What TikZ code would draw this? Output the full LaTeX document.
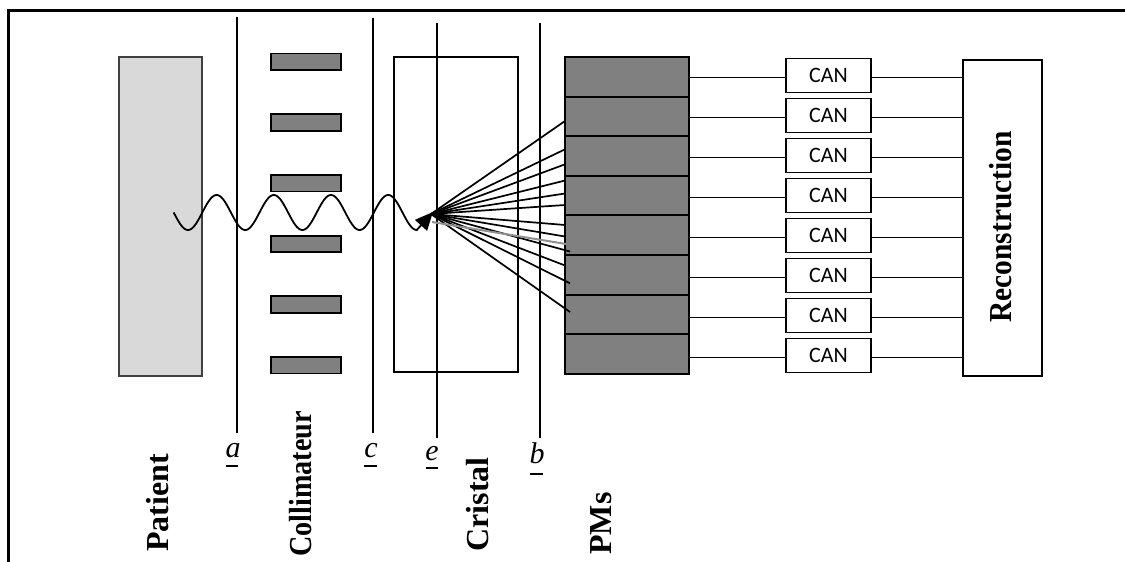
\documentclass[tikz,border=0pt]{standalone}
\usepackage{fontspec}
\setmainfont{Liberation Serif}
\newfontfamily\canfont{Carlito}
\usetikzlibrary{arrows.meta}
\definecolor{patientfill}{HTML}{D9D9D9}
\definecolor{darkfill}{HTML}{808080}
\definecolor{raygray}{HTML}{909090}
\begin{document}
\begin{tikzpicture}[x=0.5pt,y=-0.5pt,
  frame/.style={line width=1.5pt},
  vline/.style={line width=1pt},
  patientbox/.style={draw=black!75, fill=patientfill, line width=0.9pt, inner sep=0pt},
  colbar/.style={draw=black, fill=darkfill, line width=0.9pt, minimum width=35pt, minimum height=8.25pt, inner sep=0pt},
  crystbox/.style={draw=black, fill=white, line width=0.8pt, inner sep=0pt},
  pmcell/.style={draw=black, fill=darkfill, line width=1pt, minimum width=62pt, minimum height=19.8pt, inner sep=0pt},
  canbox/.style={draw=black, line width=0.9pt, minimum width=42.5pt, minimum height=17pt, inner sep=0pt, font=\canfont\fontsize{11}{13}\selectfont},
  reconbox/.style={draw=black, line width=0.9pt, inner sep=0pt},
  biglabel/.style={rotate=90, anchor=west, font=\bfseries\fontsize{16}{18}\selectfont, inner sep=0pt},
  letter/.style={font=\itshape\fontsize{15}{15}\selectfont, inner sep=0pt},
  tickmark/.style={line width=1pt},
  wire/.style={line width=0.85pt, draw=black},
  ray/.style={line width=0.85pt},
  wave/.style={line width=0.9pt}]
\useasboundingbox (0,0) rectangle (1125,562);
% frame (top and left only)
\coordinate (ftl) at (8,10);
\coordinate (ftr) at (1125,10);
\coordinate (fbl) at (8,562);
\draw[frame] (fbl) -- (ftl) -- (ftr);

% patient
\node[patientbox, minimum width=41.5pt, minimum height=159.5pt] (patient) at (160.5,216.5) {};

% vertical lines
\coordinate (at) at (237,17);  \coordinate (ab) at (237,433);
\coordinate (ct) at (373,18);  \coordinate (cb) at (373,433);
\coordinate (bt) at (540,23);  \coordinate (bb) at (540,438);
\draw[vline] (at) -- (ab);
\draw[vline] (ct) -- (cb);
\draw[vline] (bt) -- (bb);

% collimator bars
\foreach \i/\yy in {1/61.75,2/122.45,3/183.15,4/243.85,5/304.55,6/365.25}
  \node[colbar] (col\i) at (306,\yy) {};

% crystal
\node[crystbox, minimum width=62pt, minimum height=157.5pt] (cristal) at (456,214.5) {};
\coordinate (et) at (437,23);  \coordinate (eb) at (437,438);
\draw[vline] (et) -- (eb);

% PM cells
\foreach \i in {1,...,8}
  \node[pmcell] (pm\i) at (627,{76.8+39.6*(\i-1)}) {};

% CAN boxes
\foreach \i in {1,...,8}
  \node[canbox] (can\i) at (828.5,{75.5+40*(\i-1)}) {CAN};

% reconstruction
\node[reconbox, minimum width=39.5pt, minimum height=158pt] (recon) at (1002.5,218) {};
\node[biglabel, anchor=center] (recontext) at (1000.5,227) {\scalebox{0.92}[1]{Reconstruction}};

% wires
\foreach \i in {1,...,8} {
  \draw[wire] ([yshift=-1pt]can\i.west -| pm\i.east) -- ([yshift=-1pt]can\i.west);
  \draw[wire] ([yshift=-1pt]can\i.east) -- ([yshift=-1pt]can\i.east -| recon.west);
}

% wave with arrow
\coordinate (wavetip) at (433,212);
\draw[wave, -{Triangle[length=9pt,width=8pt]}] plot[variable=\t, domain=0:1530, samples=200] ({173.7+0.158889*\t},{212.5+17.5*sin(\t)}) -- (wavetip);

% fan of rays
\coordinate (src) at (431,214);
\foreach \xx/\yy [count=\i] in {565/121,565/149.3,565/164.3,565/180.5,565/193.5,565/205,565/225,565/236.5,570/251.5,565/265.5,570/283.3,570/312}{
  \coordinate (r\i) at (\xx,\yy);
  \draw[ray] (src) -- (r\i);
}
\coordinate (gsrc) at (432,222);
\coordinate (gend) at (566,244);
\draw[ray, draw=raygray, line width=1pt] (gsrc) -- (gend);

% letters and ticks
\node[letter] (la) at (233,451) {a};
\node[letter] (lc) at (371,451) {c};
\node[letter] (le) at (432,454) {e};
\node[letter] (lb) at (537,453) {b};
\coordinate (ta1) at (226,466); \coordinate (ta2) at (238,466);
\coordinate (tc1) at (364,466); \coordinate (tc2) at (377,466);
\coordinate (te1) at (426,468); \coordinate (te2) at (438,468);
\coordinate (tb1) at (530,474); \coordinate (tb2) at (543,474);
\draw[tickmark] (ta1) -- (ta2);
\draw[tickmark] (tc1) -- (tc2);
\draw[tickmark] (te1) -- (te2);
\draw[tickmark] (tb1) -- (tb2);

% big labels
\node[biglabel] (lpatient) at (158,552) {Patient};
\node[biglabel] (lcoll) at (301,557) {\scalebox{0.88}[1]{Collimateur}};
\node[biglabel] (lcrist) at (478,552) {Cristal};
\node[biglabel] (lpms) at (601,555) {PMs};
\end{tikzpicture}
\end{document}
